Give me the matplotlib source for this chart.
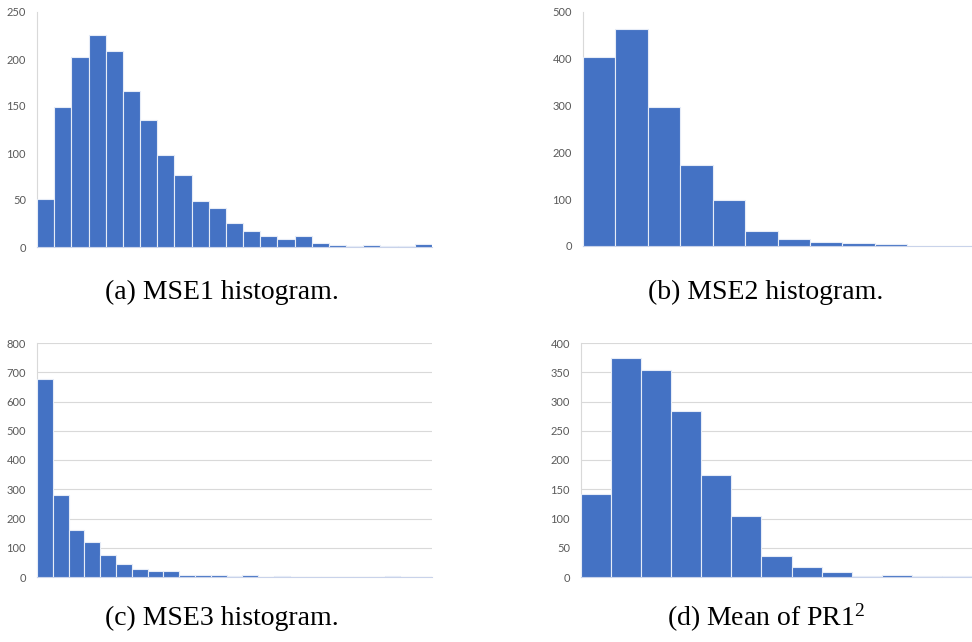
import matplotlib
matplotlib.use("Agg")
import matplotlib.pyplot as plt

# bin counts
mse1_counts = [51, 149, 202, 226, 208, 166, 135, 98, 77, 49, 41, 26, 17, 12, 9, 12, 4, 2, 1, 2, 1, 1, 3]
mse2_counts = [404, 463, 296, 173, 98, 33, 14, 9, 7, 4, 1, 1]
mse3_counts = [676, 281, 160, 119, 76, 43, 27, 22, 22, 8, 8, 6, 3, 8, 1, 2, 1, 1, 1, 1, 1, 1, 3, 1, 1]
pr1_counts = [142, 374, 353, 284, 174, 104, 36, 17, 9, 1, 3, 1, 1]

mse1_ticks = [0, 50, 100, 150, 200, 250]
mse2_ticks = [0, 100, 200, 300, 400, 500]
mse3_ticks = [0, 100, 200, 300, 400, 500, 600, 700, 800]
pr1_ticks = [0, 50, 100, 150, 200, 250, 300, 350, 400]

captions = ["(a) MSE1 histogram.", "(b) MSE2 histogram.",
            "(c) MSE3 histogram.", r"(d) Mean of PR1$^{2}$"]

BAR = "#4472C4"
GRID = "#D9D9D9"
TICK = "#595959"

plt.rcParams["mathtext.fontset"] = "custom"
plt.rcParams["mathtext.rm"] = "Liberation Serif"
plt.rcParams["mathtext.it"] = "Liberation Serif:italic"
plt.rcParams["mathtext.default"] = "rm"

fig = plt.figure(figsize=(9.72, 6.42), dpi=100)


def draw_hist(rect, counts, ticks, grid):
    ax = fig.add_axes(rect)
    n = len(counts)
    ax.bar(range(n), counts, width=1, align="edge", color=BAR,
           edgecolor="#E6ECF7", linewidth=0.8, zorder=3)
    ax.set_xlim(0, n)
    ax.set_ylim(0, ticks[-1])
    ax.set_yticks(ticks)
    ax.set_xticks([])
    ax.tick_params(axis="y", length=0, pad=8, labelsize=8, labelcolor=TICK)
    for lab in ax.get_yticklabels():
        lab.set_family("Lato")
    for s in ["top", "right"]:
        ax.spines[s].set_visible(False)
    ax.spines["left"].set_color(GRID)
    ax.spines["left"].set_linewidth(0.8)
    ax.spines["bottom"].set_color("#C9D3EA")
    ax.spines["bottom"].set_linewidth(0.8)
    if grid:
        ax.yaxis.grid(True, color=GRID, linewidth=0.8, zorder=0)
    return ax


W = 972.0
H = 642.0
draw_hist([37 / W, (H - 247) / H, 395 / W, 235 / H], mse1_counts, mse1_ticks, False)
draw_hist([583 / W, (H - 246) / H, 389 / W, 234 / H], mse2_counts, mse2_ticks, False)
draw_hist([37 / W, (H - 577) / H, 395 / W, 234 / H], mse3_counts, mse3_ticks, True)
draw_hist([581 / W, (H - 577) / H, 391 / W, 234 / H], pr1_counts, pr1_ticks, True)

cap_pos = [(222, 292), (766, 292), (222, 618), (766, 618)]
for (cx, cy), txt in zip(cap_pos, captions):
    fig.text(cx / W, 1 - cy / H, txt, ha="center", va="center",
             fontsize=20, family="Liberation Serif")

fig.savefig("out.png", dpi=100)
